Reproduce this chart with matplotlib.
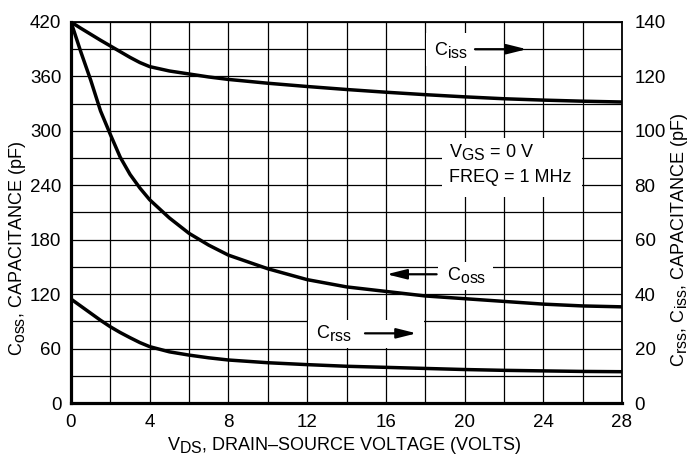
import matplotlib
matplotlib.use("Agg")
import matplotlib.pyplot as plt
import matplotlib._mathtext as mathtext_internal
from matplotlib.patches import Rectangle

# datasheet style: subscripts nearly full size
mathtext_internal.SHRINK_FACTOR = 0.88

plt.rcParams['font.family'] = 'Liberation Sans'
plt.rcParams['mathtext.fontset'] = 'custom'
plt.rcParams['mathtext.rm'] = 'Liberation Sans'
plt.rcParams['mathtext.it'] = 'Liberation Sans:italic'
plt.rcParams['mathtext.bf'] = 'Liberation Sans:bold'

# drain-source voltage (V)
vds = [0, 0.5, 1, 1.5, 2, 2.5, 3, 3.5, 4, 5, 6, 7, 8, 10, 12, 14, 16, 18, 20, 22, 24, 26, 28]
# Coss on the left axis (pF)
coss = [420, 387, 356, 322, 296, 271, 252, 237, 224, 204, 187, 174, 163, 148, 136, 128, 123,
        118, 115, 112, 109, 107, 106]
# Ciss and Crss on the right axis (pF)
ciss = [140, 137.7, 135.5, 133.3, 131.2, 129.1, 127, 125.1, 123.6, 122, 120.9, 119.8, 118.9,
        117.5, 116.3, 115.2, 114.2, 113.3, 112.5, 111.8, 111.3, 110.9, 110.6]
crss = [38.2, 35.6, 33, 30.4, 28, 25.9, 24, 22.2, 20.7, 18.8, 17.6, 16.6, 15.8, 14.8, 14.1,
        13.5, 13.1, 12.7, 12.3, 12.0, 11.8, 11.6, 11.5]

FS = 13

fig = plt.figure(figsize=(6.89, 4.62), dpi=100)
ax = fig.add_axes([71 / 689, 1 - 403 / 462, 551 / 689, 381 / 462])
ax2 = ax.twinx()

ax.set_xlim(0, 28)
ax.set_ylim(0, 420)
ax2.set_ylim(0, 140)

ax.set_xticks(range(0, 29, 4))
ax.set_xticks(range(0, 29, 2), minor=True)
ax.set_yticks(range(0, 421, 60))
ax.set_yticks(range(0, 421, 30), minor=True)
ax2.set_yticks(range(0, 141, 20))

ax.grid(which='both', color='black', lw=0.9)
ax.set_axisbelow(True)
ax.tick_params(which='both', length=0, labelsize=13.5)
ax.tick_params(axis='x', pad=8)
ax.tick_params(axis='y', pad=7)
ax2.tick_params(which='both', length=0, labelsize=13.5, pad=9)

for s in ['left', 'bottom']:
    ax.spines[s].set_linewidth(2.3)
for s in ['top', 'right']:
    ax.spines[s].set_linewidth(1.3)
for s in ax2.spines.values():
    s.set_visible(False)

ax.plot(vds, coss, color='black', lw=2.5, solid_capstyle='butt')
ax2.plot(vds, ciss, color='black', lw=2.5, zorder=3, solid_capstyle='butt')
ax2.plot(vds, crss, color='black', lw=2.5, zorder=3, solid_capstyle='butt')

ax.set_xlabel(r'$\mathregular{V_{DS}}$, DRAIN–SOURCE VOLTAGE (VOLTS)', fontsize=FS)
ax.xaxis.set_label_coords(0.4955, -0.085)
ax.set_ylabel(r'$\mathregular{C_{oss}}$, CAPACITANCE (pF)', fontsize=FS)
ax.yaxis.set_label_coords(-0.078, 0.405)
ax2.set_ylabel(r'$\mathregular{C_{rss}}$, $\mathregular{C_{iss}}$, CAPACITANCE (pF)', fontsize=FS)
ax2.yaxis.set_label_coords(1.085, 0.428)

# white label boxes (right-axis units)
for x0, y0, w, h in [(18.05, 124, 2.5, 12), (18.65, 41.5, 2.8, 10.3),
                     (18.83, 75.8, 7.12, 21.6), (12.04, 20.3, 5.9, 10.2)]:
    ax2.add_patch(Rectangle((x0, y0), w, h, fc='white', ec='none', zorder=1))

arrow = dict(arrowstyle='-|>,head_length=1.2,head_width=0.3', color='black', lw=1.6,
             mutation_scale=10, shrinkA=0, shrinkB=0)

ax2.text(18.45, 129.8, r'$\mathregular{C_{iss}}$', fontsize=FS, va='center', ha='left', zorder=4)
ax2.annotate('', xy=(23.16, 130), xytext=(20.53, 130), arrowprops=arrow, zorder=4)

ax2.text(19.1, 47.0, r'$\mathregular{C_{oss}}$', fontsize=FS, va='center', ha='left', zorder=4)
ax2.annotate('', xy=(16.04, 47.3), xytext=(18.58, 47.3), arrowprops=arrow, zorder=4)

ax2.text(12.45, 25.6, r'$\mathregular{C_{rss}}$', fontsize=FS, va='center', ha='left', zorder=4)
ax2.annotate('', xy=(17.56, 25.6), xytext=(14.94, 25.6), arrowprops=arrow, zorder=4)

ax2.text(19.2, 92.3, r'$\mathregular{V_{GS}}$ = 0 V', fontsize=FS, va='center', ha='left', zorder=4)
ax2.text(19.2, 82.8, 'FREQ = 1 MHz', fontsize=FS, va='center', ha='left', zorder=4)

fig.savefig('out.png', dpi=100)
